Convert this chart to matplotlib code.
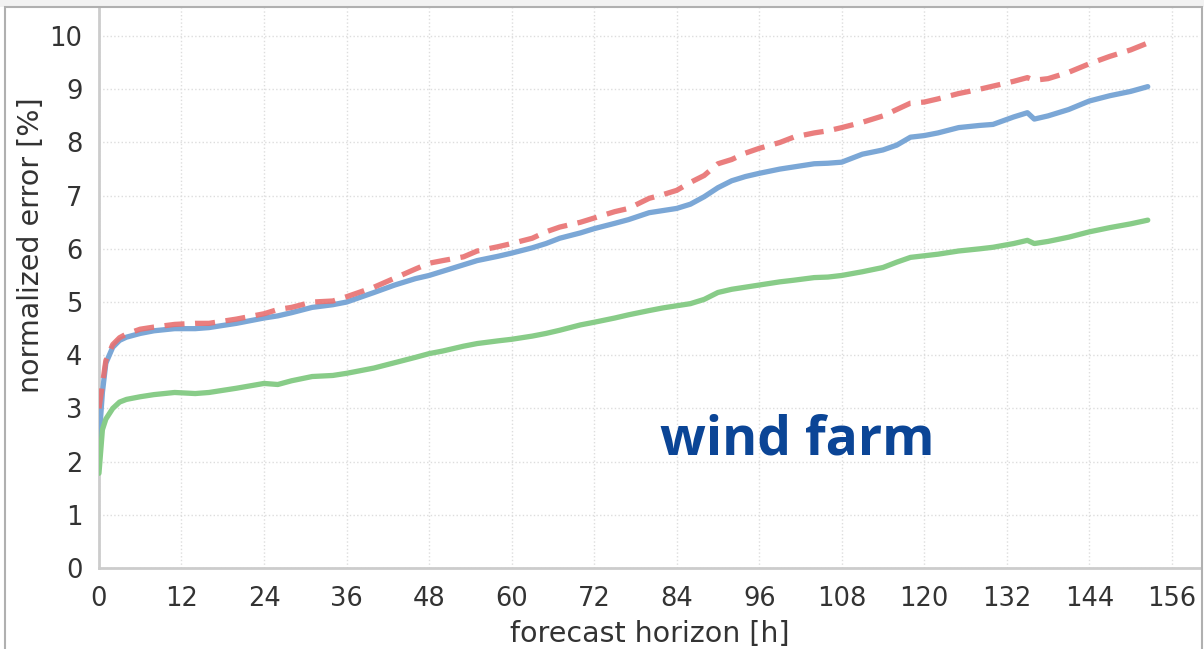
import matplotlib
matplotlib.use("Agg")
import matplotlib.pyplot as plt
import matplotlib.patches as patches

plt.rcParams['font.family'] = ['DejaVu Sans']

# forecast horizon in hours
hours = [0, 0.5, 1, 2, 3, 4, 6, 8, 11, 14, 16, 20, 24, 26, 28, 31, 34, 36, 40, 43,
         46, 48, 50, 53, 55, 58, 60, 63, 65, 67, 70, 72, 75, 77, 80, 82, 84, 86, 88,
         90, 92, 94, 96, 99, 101, 104, 106, 108, 111, 114, 116, 118, 120, 122, 125,
         128, 130, 133, 135, 136, 138, 141, 144, 147, 150, 152.5]

err_blue = [2.4, 3.3, 3.85, 4.15, 4.28, 4.34, 4.41, 4.46, 4.5, 4.5, 4.52, 4.6, 4.7,
            4.74, 4.8, 4.9, 4.95, 5.0, 5.18, 5.32, 5.44, 5.5, 5.58, 5.7, 5.78, 5.86,
            5.92, 6.02, 6.1, 6.2, 6.3, 6.38, 6.48, 6.55, 6.68, 6.72, 6.76, 6.84, 6.98,
            7.15, 7.28, 7.36, 7.42, 7.5, 7.54, 7.6, 7.61, 7.63, 7.78, 7.86, 7.95, 8.1,
            8.13, 8.18, 8.28, 8.32, 8.34, 8.48, 8.56, 8.44, 8.5, 8.62, 8.78, 8.88,
            8.96, 9.05]

err_red = [3.0, 3.45, 3.9, 4.2, 4.33, 4.4, 4.49, 4.53, 4.58, 4.6, 4.6, 4.68, 4.78,
           4.86, 4.9, 5.0, 5.02, 5.1, 5.28, 5.45, 5.62, 5.73, 5.78, 5.85, 5.96, 6.04,
           6.1, 6.2, 6.32, 6.41, 6.5, 6.58, 6.7, 6.76, 6.95, 7.02, 7.1, 7.25, 7.38,
           7.6, 7.68, 7.8, 7.89, 8.0, 8.1, 8.18, 8.22, 8.28, 8.38, 8.5, 8.62, 8.74,
           8.76, 8.82, 8.92, 9.0, 9.06, 9.15, 9.22, 9.17, 9.2, 9.32, 9.48, 9.62,
           9.74, 9.87]

err_green = [1.78, 2.6, 2.8, 3.0, 3.12, 3.17, 3.22, 3.26, 3.3, 3.28, 3.3, 3.38, 3.47,
             3.45, 3.52, 3.6, 3.62, 3.66, 3.76, 3.86, 3.96, 4.03, 4.08, 4.17, 4.22,
             4.27, 4.3, 4.36, 4.41, 4.47, 4.57, 4.62, 4.7, 4.76, 4.84, 4.89, 4.93,
             4.97, 5.05, 5.18, 5.24, 5.28, 5.32, 5.38, 5.41, 5.46, 5.47, 5.5, 5.57,
             5.65, 5.75, 5.84, 5.87, 5.9, 5.96, 6.0, 6.03, 6.1, 6.16, 6.1, 6.14,
             6.22, 6.32, 6.4, 6.47, 6.54]

x_ticks = list(range(0, 157, 12))
y_ticks = list(range(0, 11))

fig = plt.figure(figsize=(12.04, 6.49), dpi=100)
ax = fig.add_axes([0.0822, 0.1248, 0.9145, 0.863])

ax.plot(hours, err_blue, color='#7ba7d6', lw=3.8, solid_capstyle='round', zorder=3)
ax.plot(hours, err_green, color='#88cc88', lw=3.8, solid_capstyle='round', zorder=3)
ax.plot(hours, err_red, color='#e87070', lw=3.8, ls=(0, (3.8, 2.0)), alpha=0.9, zorder=4)

ax.set_xlim(0, 160.1)
ax.set_ylim(0, 10.53)
ax.set_xticks(x_ticks)
ax.set_yticks(y_ticks)
ax.tick_params(length=0, labelsize=18.5, colors='#333333')
ax.tick_params(axis='x', pad=13)
ax.tick_params(axis='y', pad=12)
ax.grid(True, color='#dddddd', ls=':', lw=1)
ax.set_axisbelow(True)

for s in ['top', 'right']:
    ax.spines[s].set_visible(False)
for s in ['left', 'bottom']:
    ax.spines[s].set_color('#cccccc')
    ax.spines[s].set_linewidth(2)

ax.set_xlabel("forecast horizon [h]", fontsize=20.5, color='#333333', labelpad=6)
ax.set_ylabel("normalized error [%]", fontsize=20.5, color='#333333')
ax.yaxis.set_label_coords(-0.049, 0.577)

ax.text(101.6, 2.4, "wind farm", fontsize=38.5, fontweight='bold', color='#0b4596',
        family=['Open Sans', 'DejaVu Sans'], ha='center', va='center')

# screenshot frame
fig.patches.append(patches.Rectangle((0, 1 - 7 / 649), 1, 7 / 649, transform=fig.transFigure,
                                     facecolor='#f2f2f2', edgecolor='none', zorder=0))
fig.patches.append(patches.Rectangle((5 / 1204, -0.01), 1197 / 1204, 1 - 7 / 649 + 0.01,
                                     transform=fig.transFigure, facecolor='none',
                                     edgecolor='#b0b0b0', lw=1.5, zorder=5))

fig.savefig("out.png", dpi=100)
